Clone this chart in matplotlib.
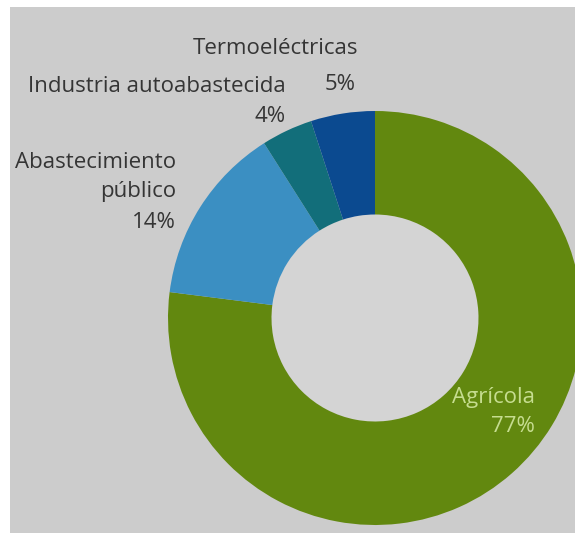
import matplotlib
matplotlib.use("Agg")
import matplotlib.pyplot as plt
from matplotlib.patches import Circle

# datos (porcentaje del agua concesionada por uso)
usos = ["Agrícola", "Abastecimiento\npúblico", "Industria autoabastecida", "Termoeléctricas"]
porcentajes = [77, 14, 4, 5]
colores = ["#62880f", "#3b8fc2", "#126e7a", "#0b4a90"]

W, H = 575, 533
cx, cy, r = 375, 318, 207  # centro y radio en pixeles

def px(x, y):
    # pixel de la imagen -> coordenadas de datos
    return (x - cx) / r, (cy - y) / r

fig = plt.figure(figsize=(W / 100, H / 100), dpi=100, facecolor="white")
# fondo gris con margen blanco arriba y a la izquierda (se pasa un poco a la derecha/abajo)
izq, der, arr, aba = 10, W + 5, 7, H + 5
ax = fig.add_axes([izq / W, -5 / H, (der - izq) / W, (aba - arr) / H])

ax.pie(porcentajes, colors=colores, startangle=90, counterclock=False,
       radius=1, wedgeprops=dict(width=0.5, edgecolor="none"))
ax.add_patch(Circle((0, 0), 0.5, color="#d4d4d4", zorder=0))

# pie() apaga el marco, se vuelve a encender para ver el fondo
ax.set_frame_on(True)
ax.set_facecolor("#cccccc")
for s in ax.spines.values():
    s.set_visible(False)

x0, y1 = px(izq, aba)
x1, y0 = px(der, arr)
ax.set_xlim(x0, x1)
ax.set_ylim(y1, y0)
ax.set_aspect("auto")
ax.set_xticks([])
ax.set_yticks([])

fuente = ["Open Sans", "DejaVu Sans"]
gris = "#353535"
verde_claro = "#c6dd90"

# etiquetas: (texto, borde derecho, centro vertical, color)
etiquetas = [
    ("Termoeléctricas", 358, 49, gris),
    (f"{porcentajes[3]}%", 356, 85, gris),
    ("Industria autoabastecida", 286, 87, gris),
    (f"{porcentajes[2]}%", 286, 117, gris),
    ("Abastecimiento\npúblico", 176, 177, gris),
    (f"{porcentajes[1]}%", 176, 222, gris),
    ("Agrícola", 535, 398, verde_claro),
    (f"{porcentajes[0]}%", 535, 426, verde_claro),
]
for texto, xr, yc, c in etiquetas:
    x, y = px(xr, yc)
    ax.text(x, y, texto, ha="right", va="center", multialignment="right",
            fontsize=16, color=c, family=fuente, linespacing=1.45)

fig.savefig("out.png", dpi=100, facecolor=fig.get_facecolor())
